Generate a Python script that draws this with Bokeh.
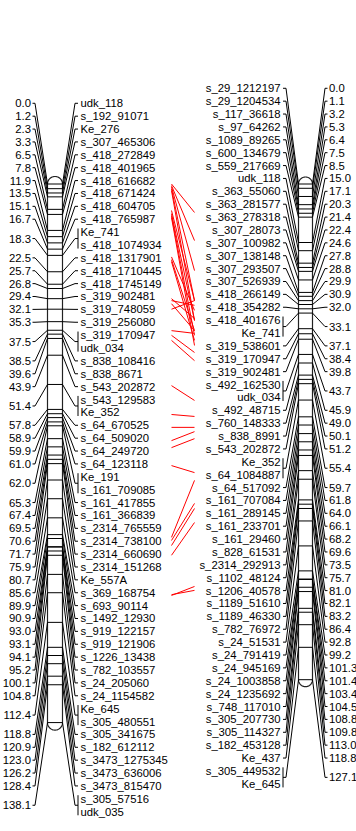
import numpy as np
from bokeh.plotting import figure
from bokeh.models import Range1d, ColumnDataSource
from bokeh.embed import file_html
from bokeh.resources import INLINE
from bokeh.core.properties import value

# ---------------- data ----------------
left_markers = ["udk_118", "s_192_91071", "Ke_276", "s_307_465306", "s_418_272849",
                "s_418_401965", "s_418_616682", "s_418_671424", "s_418_604705", "s_418_765987",
                "Ke_741", "s_418_1074934", "s_418_1317901", "s_418_1710445", "s_418_1745149",
                "s_319_902481", "s_319_748059", "s_319_256080", "s_319_170947", "udk_034",
                "s_838_108416", "s_838_8671", "s_543_202872", "s_543_129583", "Ke_352",
                "s_64_670525", "s_64_509020", "s_64_249720", "s_64_123118", "Ke_191",
                "s_161_709085", "s_161_417855", "s_161_366839", "s_2314_765559", "s_2314_738100",
                "s_2314_660690", "s_2314_151268", "Ke_557A", "s_369_168754", "s_693_90114",
                "s_1492_12930", "s_919_122157", "s_919_121906", "s_1226_13438", "s_782_103557",
                "s_24_205060", "s_24_1154582", "Ke_645", "s_305_480551", "s_305_341675",
                "s_182_612112", "s_3473_1275345", "s_3473_636006", "s_3473_815470", "s_305_57516",
                "udk_035"]
left_pos = [0.0, 1.2, 2.3, 3.3, 6.5, 7.8, 11.9, 13.5, 15.1, 16.7,
            18.3, 18.3, 22.5, 25.7, 26.8, 29.4, 32.1, 35.3, 37.5, 37.5,
            38.5, 39.6, 43.9, 51.4, 51.4, 57.8, 58.9, 59.9, 61.0, 62.0,
            62.0, 65.3, 67.4, 69.5, 70.6, 71.7, 75.9, 80.7, 85.6, 89.9,
            90.9, 93.0, 93.1, 94.1, 95.2, 100.1, 104.8, 112.4, 112.4, 118.8,
            120.9, 123.0, 126.2, 128.4, 138.1, 138.1]

right_markers = ["s_29_1212197", "s_29_1204534", "s_117_36618", "s_97_64262", "s_1089_89265",
                 "s_600_134679", "s_559_217669", "udk_118", "s_363_55060", "s_363_281577",
                 "s_363_278318", "s_307_28073", "s_307_100982", "s_307_138148", "s_307_293507",
                 "s_307_526939", "s_418_266149", "s_418_354282", "s_418_401676", "Ke_741",
                 "s_319_538601", "s_319_170947", "s_319_902481", "s_492_162530", "udk_034",
                 "s_492_48715", "s_760_148333", "s_838_8991", "s_543_202872", "Ke_352",
                 "s_64_1084887", "s_64_517092", "s_161_707084", "s_161_289145", "s_161_233701",
                 "s_161_29460", "s_828_61531", "s_2314_292913", "s_1102_48124", "s_1206_40578",
                 "s_1189_51610", "s_1189_46330", "s_782_76972", "s_24_51531", "s_24_791419",
                 "s_24_945169", "s_24_1003858", "s_24_1235692", "s_748_117010", "s_305_207730",
                 "s_305_114327", "s_182_453128", "Ke_437", "s_305_449532", "Ke_645"]
right_pos = [0.0, 1.1, 3.2, 5.3, 6.4, 7.5, 8.5, 15.0, 17.1, 20.3,
             21.4, 22.4, 24.6, 27.8, 28.8, 29.9, 30.9, 32.0, 33.1, 33.1,
             37.1, 38.4, 39.8, 43.7, 43.7, 45.9, 49.0, 50.1, 51.2, 55.4,
             55.4, 59.7, 61.8, 64.0, 66.1, 68.2, 69.6, 73.5, 75.7, 81.0,
             82.1, 83.2, 86.4, 92.8, 99.2, 101.3, 101.4, 103.4, 104.5, 108.8,
             109.8, 113.0, 118.8, 127.1, 127.1]

# connecting lines (cM on left map -> cM on right map)
conn_left = [0.0, 0.4, 0.7, 1.2, 1.7, 6.8, 7.6, 8.1, 8.6, 18.7, 19.4, 19.9, 29.4, 29.9,
             30.7, 32.1, 37.6, 38.8, 40.1, 51.7, 59.1, 62.4, 65.8, 67.6, 72.2, 90.6,
             91.4, 92.7, 95.2, 105.3, 105.5]
conn_right = [7.3, 14.5, 22.2, 29.9, 35.0, 29.9, 35.0, 38.8, 41.4, 32.4, 37.6, 40.1, 34.5,
              31.1, 37.6, 29.9, 38.3, 43.2, 45.3, 55.5, 59.6, 62.4, 63.5, 65.3, 74.0, 76.0,
              81.9, 83.2, 86.8, 104.2, 103.2]

# ---------------- layout ----------------
W, H = 356, 831
Y0, K = 183.5, 3.9          # pixel row of 0 cM, pixels per cM
SP = 12.88 / K              # label spacing in cM units
FONT = "Liberation Sans"
FS = "11.3px"

p = figure(width=W, height=H, output_backend="svg", toolbar_location=None,
           x_range=Range1d(0, W), y_range=Range1d((H - Y0) / K, (0 - Y0) / K),
           min_border=0, x_axis_type=None, y_axis_type=None)
p.outline_line_color = None
p.background_fill_color = "white"


def spread(pos):
    n = len(pos)
    mid = (min(pos) + max(pos)) / 2 + 4.2 / K
    return [mid + (i - (n - 1) / 2) * SP for i in range(n)]


def groups(pos):
    out, i = [], 0
    while i < len(pos):
        j = i
        while j + 1 < len(pos) and pos[j + 1] == pos[i]:
            j += 1
        out.append((i, j))
        i = j + 1
    return out


def draw_chrom(markers, pos, xl, xr, markers_right):
    ly = spread(pos)
    cx, r = (xl + xr) / 2, (xr - xl) / 2
    top, bot = min(pos), max(pos)
    # body outline with rounded caps
    t1 = np.linspace(0, np.pi, 30)
    t2 = np.linspace(np.pi, 2 * np.pi, 30)
    bx = list(cx + r * np.cos(t1)) + list(cx + r * np.cos(t2))
    by = list(top - (r / K) * np.sin(t1)) + list(bot - (r / K) * np.sin(t2))
    p.patch(bx, by, fill_color="white", line_color="#222222", line_width=1.2)
    # lines across body
    up = sorted(set(pos))
    p.segment(x0=[xl] * len(up), y0=up, x1=[xr] * len(up), y1=up,
              line_color="black", line_width=1)

    sgn_m = 1 if markers_right else -1
    em = xr if markers_right else xl          # edge for marker side
    ep = xl if markers_right else xr          # edge for position side
    sgn_p = -sgn_m

    xs, ys = [], []
    bx0, by0, bx1, by1 = [], [], [], []
    ptx, pty, ptt = [], [], []
    for (i, j) in groups(pos):
        cy = pos[i]
        mid = (ly[i] + ly[j]) / 2
        # marker side
        xs.append([em, em + sgn_m * 12.5, em + sgn_m * 15.5])
        ys.append([cy, mid, mid])
        if j > i:
            bx0.append(em + sgn_m * 15.5); bx1.append(em + sgn_m * 15.5)
            by0.append(ly[i] - 3.6 / K); by1.append(ly[j] + 3.6 / K)
        # position side
        xs.append([ep, ep + sgn_p * 12.5, ep + sgn_p * 15.0])
        ys.append([cy, mid, mid])
        ptx.append(ep + sgn_p * 16.5); pty.append(mid); ptt.append(f"{cy:.1f}")
    p.multi_line(xs, ys, line_color="black", line_width=1)
    if bx0:
        p.segment(x0=bx0, y0=by0, x1=bx1, y1=by1, line_color="black", line_width=1)
    mx = em + sgn_m * 18.0
    p.text(x=[mx] * len(markers), y=ly, text=markers,
           text_align="left" if markers_right else "right", text_baseline="middle",
           text_font=value(FONT), text_font_size=value(FS), text_color="black")
    p.text(x=ptx, y=pty, text=ptt,
           text_align="right" if markers_right else "left", text_baseline="middle",
           text_font=value(FONT), text_font_size=value(FS), text_color="black")


draw_chrom(left_markers, left_pos, 47, 62, True)
draw_chrom(right_markers, right_pos, 298, 312, False)

p.segment(x0=[171] * len(conn_left), y0=conn_left, x1=[194] * len(conn_right), y1=conn_right,
          line_color="red", line_width=1)

open("out.html", "w").write(file_html(p, INLINE))
